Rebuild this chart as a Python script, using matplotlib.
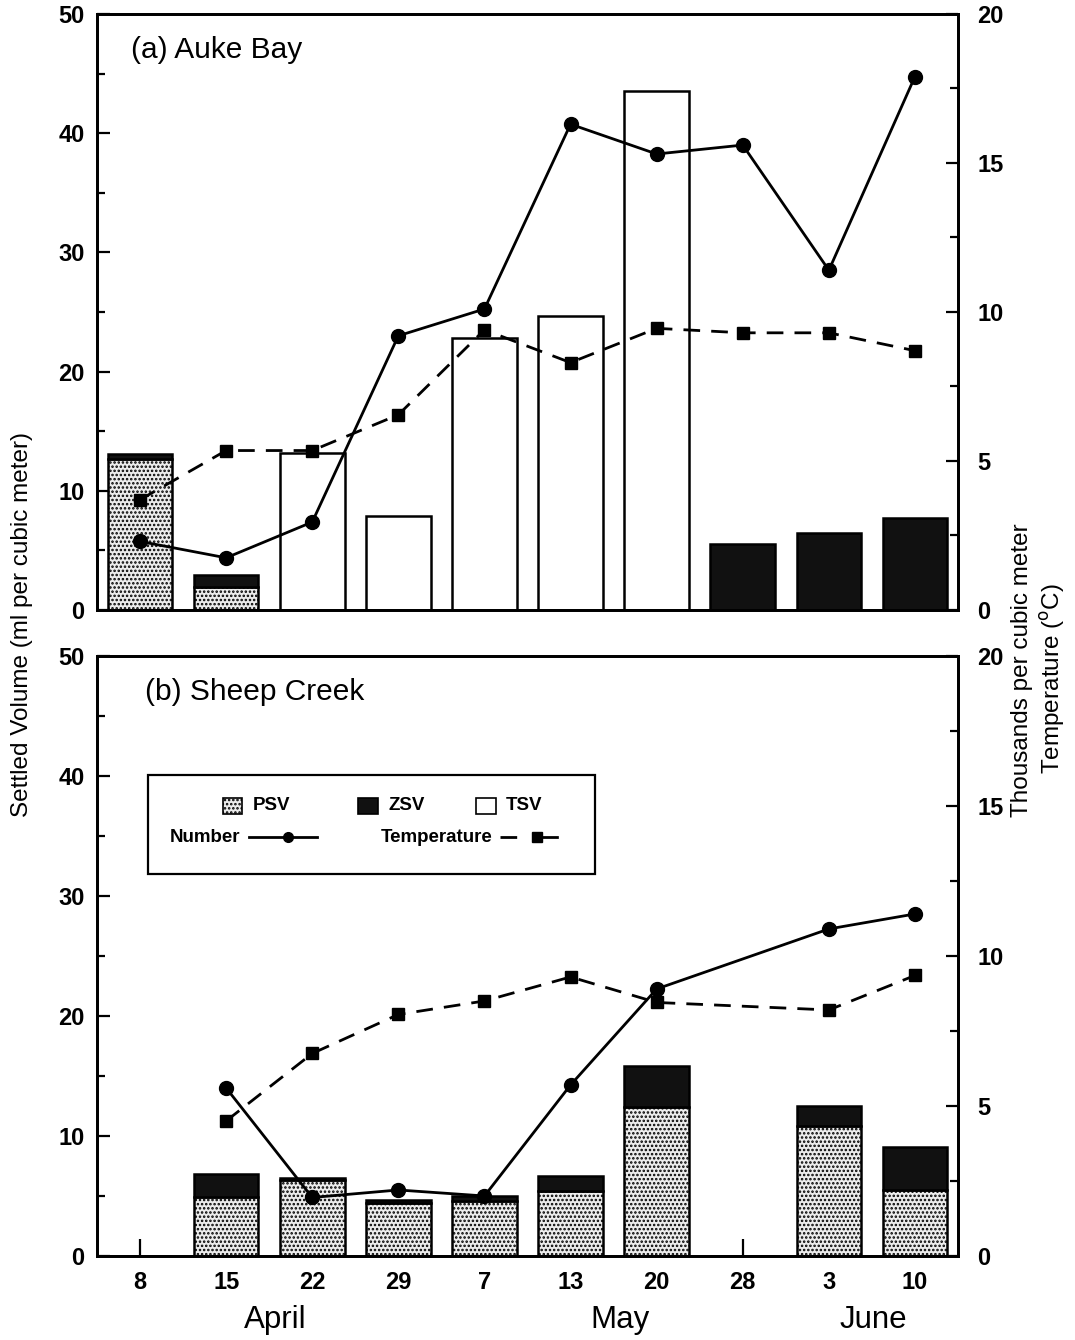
import matplotlib
matplotlib.use("Agg")
import matplotlib.pyplot as plt
import matplotlib.transforms as mtransforms
from matplotlib.patches import Rectangle
from matplotlib.lines import Line2D
import numpy as np

plt.rcParams["font.family"] = ["Liberation Sans", "DejaVu Sans"]
plt.rcParams["hatch.linewidth"] = 1.2

# sampling dates
dates = ["8", "15", "22", "29", "7", "13", "20", "28", "3", "10"]
months = ["April", "May", "June"]
month_x = [1.57, 5.57, 8.52]

# (a) Auke Bay -- settled volume (ml/m3), number (thousands/m3), temperature (C)
auke_psv = [12.7, 1.9, 0, 0, 0, 0, 0, 0, 0, 0]
auke_zsv = [0.4, 1.0, 0, 0, 0, 0, 0, 5.5, 6.45, 7.7]
auke_tsv = [0, 0, 13.2, 7.9, 22.8, 24.7, 43.5, 0, 0, 0]
auke_num = [2.3, 1.75, 2.95, 9.2, 10.1, 16.3, 15.3, 15.6, 11.4, 17.9]
auke_temp = [3.7, 5.35, 5.35, 6.55, 9.4, 8.3, 9.45, 9.3, 9.3, 8.7]

# (b) Sheep Creek (no samples on the 8th and 28th)
sheep_psv = [0, 4.9, 6.3, 4.4, 4.6, 5.4, 12.4, 0, 10.8, 5.5]
sheep_zsv = [0, 1.9, 0.2, 0.3, 0.4, 1.3, 3.4, 0, 1.7, 3.6]
sheep_num = [np.nan, 5.6, 1.95, 2.2, 2.0, 5.7, 8.9, np.nan, 10.9, 11.4]
sheep_temp = [np.nan, 4.5, 6.75, 8.05, 8.5, 9.3, 8.45, np.nan, 8.2, 9.35]

PSV_FACE = "#ececec"
ZSV_FACE = "#111111"
BAR_W = 0.75
TICK_FS = 17


def style_axes(ax, axr):
    ax.set_xlim(-0.5, len(dates) - 0.5)
    ax.set_ylim(0, 50)
    axr.set_ylim(0, 20)
    ax.set_xticks(range(len(dates)))
    ax.set_yticks(range(0, 51, 10))
    ax.set_yticks(range(5, 50, 10), minor=True)
    axr.set_yticks(range(0, 21, 5))
    axr.set_yticks(np.arange(2.5, 20, 5), minor=True)
    ax.tick_params(axis="both", which="both", direction="in", width=1.6,
                   labelsize=TICK_FS)
    ax.tick_params(axis="y", which="major", length=9, pad=9)
    ax.tick_params(axis="y", which="minor", length=6)
    ax.tick_params(axis="x", length=12)
    axr.tick_params(axis="y", which="both", direction="in", width=1.6,
                    labelsize=TICK_FS, pad=14)
    axr.tick_params(axis="y", which="major", length=9)
    axr.tick_params(axis="y", which="minor", length=6)
    for a in (ax, axr):
        for s in a.spines.values():
            s.set_linewidth(2)
        for lab in a.get_yticklabels():
            lab.set_fontweight("bold")


def draw_bars(ax, psv, zsv, tsv=None):
    x = np.arange(len(dates))
    psv = np.array(psv)
    zsv = np.array(zsv)
    ax.bar(x, psv, BAR_W, color=PSV_FACE, edgecolor="black", hatch="....",
           linewidth=1.8, zorder=2)
    ax.bar(x, zsv, BAR_W, bottom=psv, color=ZSV_FACE, edgecolor="black",
           linewidth=1.8, zorder=2)
    if tsv is not None:
        ax.bar(x, tsv, BAR_W, color="white", edgecolor="black",
               linewidth=1.8, zorder=2)


def draw_lines(axr, num, temp):
    x = np.arange(len(dates))
    num = np.array(num, dtype=float)
    temp = np.array(temp, dtype=float)
    ok = np.isfinite(num)
    axr.plot(x[ok], num[ok], color="black", linewidth=2, marker="o",
             markersize=10, zorder=4)
    ok = np.isfinite(temp)
    axr.plot(x[ok], temp[ok], color="black", linewidth=2,
             linestyle=(0, (6, 4)), marker="s", markersize=8, zorder=4)


fig = plt.figure(figsize=(10.75, 13.4), dpi=100)
ax1 = fig.add_axes([0.0902, 0.5448, 0.801, 0.4448])
ax2 = fig.add_axes([0.0902, 0.0627, 0.801, 0.4478])
ax1r = ax1.twinx()
ax2r = ax2.twinx()

draw_bars(ax1, auke_psv, auke_zsv, auke_tsv)
draw_lines(ax1r, auke_num, auke_temp)
draw_bars(ax2, sheep_psv, sheep_zsv)
draw_lines(ax2r, sheep_num, sheep_temp)

for ax, axr in ((ax1, ax1r), (ax2, ax2r)):
    style_axes(ax, axr)

ax1.set_xticklabels([])
ax2.set_xticklabels(dates)
for lab in ax2.get_xticklabels():
    lab.set_fontweight("bold")
ax2.tick_params(axis="x", pad=11)

ax1.text(0.04, 0.94, "(a) Auke Bay", transform=ax1.transAxes, fontsize=21.5,
         va="center")
ax2.text(0.056, 0.94, "(b) Sheep Creek", transform=ax2.transAxes,
         fontsize=21.5, va="center")

# month labels under the date ticks
trans = mtransforms.blended_transform_factory(ax2.transData, fig.transFigure)
for m, mx in zip(months, month_x):
    fig.text(mx, 0.015, m, transform=trans, ha="center", va="center",
             fontsize=22.5)

# axis titles
fig.text(0.0205, 0.534, "Settled Volume (ml per cubic meter)", rotation=90,
         ha="center", va="center", fontsize=17.5)
fig.text(0.951, 0.50, "Thousands per cubic meter", rotation=90,
         ha="center", va="center", fontsize=17.5)
fig.text(0.979, 0.494, r"Temperature ($^{\mathrm{o}}$C)", rotation=90,
         ha="center", va="center", fontsize=17.5)

# legend box drawn by hand inside panel (b)
T = ax2.transAxes
ax2.add_patch(Rectangle((0.059, 0.637), 0.519, 0.165, transform=T,
                        facecolor="white", edgecolor="black", linewidth=1.6,
                        zorder=5))
row1 = 0.75
pw, ph = 0.023, 0.028
for px, face, hatch, lab in ((0.146, PSV_FACE, "....", "PSV"),
                             ((358 - 97) / 861, ZSV_FACE, None, "ZSV"),
                             ((476 - 97) / 861, "white", None, "TSV")):
    ax2.add_patch(Rectangle((px, row1 - ph / 2), pw, ph, transform=T,
                            facecolor=face, edgecolor="black", hatch=hatch,
                            linewidth=1.2, zorder=6))
    ax2.text(px + pw + 0.012, row1, lab, transform=T, va="center",
             fontsize=13.5, fontweight="bold", zorder=6)
row2 = 0.698
ax2.text(0.166, row2, "Number", transform=T, va="center", ha="right",
         fontsize=13.5, fontweight="bold", zorder=6)
ax2.add_line(Line2D([0.176, 0.256], [row2, row2], transform=T, color="black",
                    linewidth=2, zorder=6))
ax2.add_line(Line2D([0.222], [row2], transform=T, color="black", marker="o",
                    markersize=7, zorder=7))
ax2.text(0.459, row2, "Temperature", transform=T, va="center", ha="right",
         fontsize=13.5, fontweight="bold", zorder=6)
ax2.add_line(Line2D([0.468, 0.55], [row2, row2], transform=T, color="black",
                    linewidth=2, linestyle=(0, (6, 9)), zorder=6))
ax2.add_line(Line2D([0.511], [row2], transform=T, color="black", marker="s",
                    markersize=7, zorder=7))

fig.savefig("out.png", dpi=100)
